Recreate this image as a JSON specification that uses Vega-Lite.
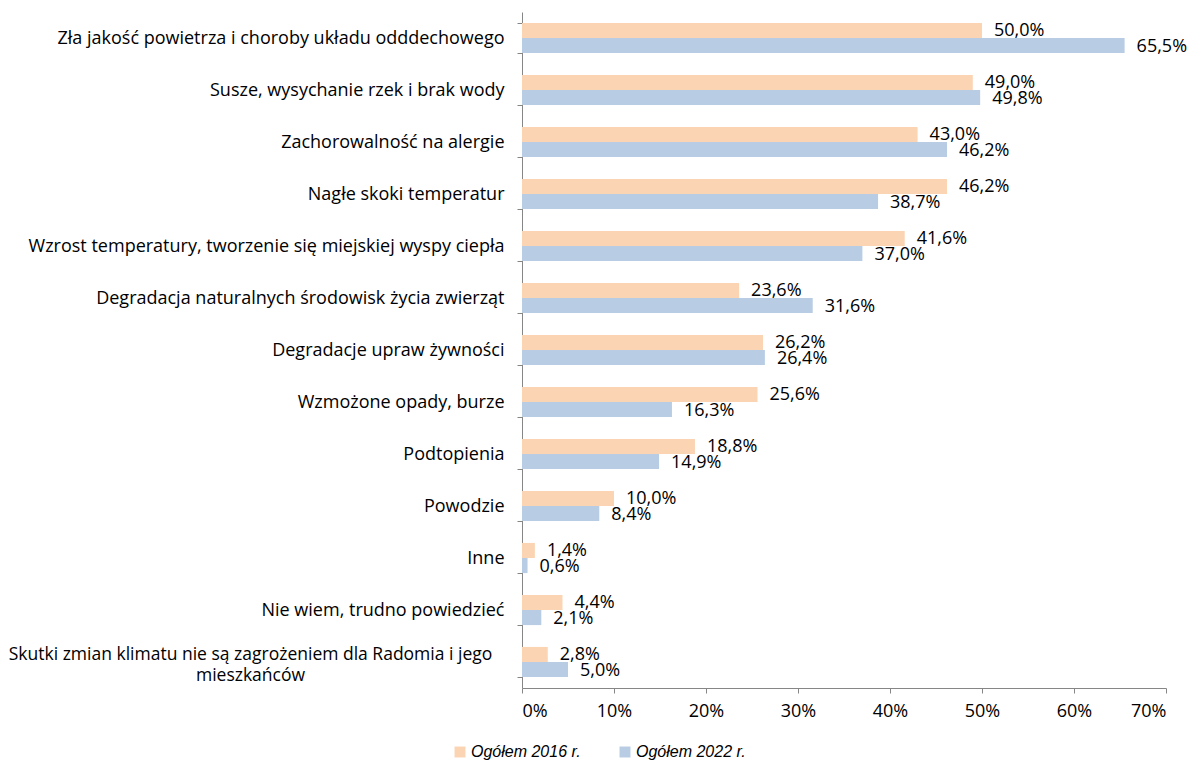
{
  "$schema": "https://vega.github.io/schema/vega-lite/v6.json",
  "width": 644,
  "height": 676,
  "autosize": {"type": "none"},
  "padding": {"left": 522, "top": 12, "right": 22, "bottom": 74},
  "background": "white",
  "data": {
    "values": [
      {"cat": "Zła jakość powietrza i choroby układu odddechowego", "series": "Ogółem 2016 r.", "value": 50.0},
      {"cat": "Zła jakość powietrza i choroby układu odddechowego", "series": "Ogółem 2022 r.", "value": 65.5},
      {"cat": "Susze, wysychanie rzek i brak wody", "series": "Ogółem 2016 r.", "value": 49.0},
      {"cat": "Susze, wysychanie rzek i brak wody", "series": "Ogółem 2022 r.", "value": 49.8},
      {"cat": "Zachorowalność na alergie", "series": "Ogółem 2016 r.", "value": 43.0},
      {"cat": "Zachorowalność na alergie", "series": "Ogółem 2022 r.", "value": 46.2},
      {"cat": "Nagłe skoki temperatur", "series": "Ogółem 2016 r.", "value": 46.2},
      {"cat": "Nagłe skoki temperatur", "series": "Ogółem 2022 r.", "value": 38.7},
      {"cat": "Wzrost temperatury, tworzenie się miejskiej wyspy ciepła", "series": "Ogółem 2016 r.", "value": 41.6},
      {"cat": "Wzrost temperatury, tworzenie się miejskiej wyspy ciepła", "series": "Ogółem 2022 r.", "value": 37.0},
      {"cat": "Degradacja naturalnych środowisk życia zwierząt", "series": "Ogółem 2016 r.", "value": 23.6},
      {"cat": "Degradacja naturalnych środowisk życia zwierząt", "series": "Ogółem 2022 r.", "value": 31.6},
      {"cat": "Degradacje upraw żywności", "series": "Ogółem 2016 r.", "value": 26.2},
      {"cat": "Degradacje upraw żywności", "series": "Ogółem 2022 r.", "value": 26.4},
      {"cat": "Wzmożone opady, burze", "series": "Ogółem 2016 r.", "value": 25.6},
      {"cat": "Wzmożone opady, burze", "series": "Ogółem 2022 r.", "value": 16.3},
      {"cat": "Podtopienia", "series": "Ogółem 2016 r.", "value": 18.8},
      {"cat": "Podtopienia", "series": "Ogółem 2022 r.", "value": 14.9},
      {"cat": "Powodzie", "series": "Ogółem 2016 r.", "value": 10.0},
      {"cat": "Powodzie", "series": "Ogółem 2022 r.", "value": 8.4},
      {"cat": "Inne", "series": "Ogółem 2016 r.", "value": 1.4},
      {"cat": "Inne", "series": "Ogółem 2022 r.", "value": 0.6},
      {"cat": "Nie wiem, trudno powiedzieć", "series": "Ogółem 2016 r.", "value": 4.4},
      {"cat": "Nie wiem, trudno powiedzieć", "series": "Ogółem 2022 r.", "value": 2.1},
      {"cat": "Skutki zmian klimatu nie są zagrożeniem dla Radomia i jego mieszkańców", "series": "Ogółem 2016 r.", "value": 2.8},
      {"cat": "Skutki zmian klimatu nie są zagrożeniem dla Radomia i jego mieszkańców", "series": "Ogółem 2022 r.", "value": 5.0}
    ]
  },
  "encoding": {
    "y": {
      "field": "cat",
      "type": "nominal",
      "sort": null,
      "scale": {"paddingInner": 0.42, "paddingOuter": 0.21},
      "axis": {
        "title": null,
        "domainColor": "#868686",
        "tickColor": "#868686",
        "tickSize": 5,
        "tickBand": "extent",
        "labelFont": "Open Sans",
        "labelFontSize": {"condition": {"test": "datum.value == 'Skutki zmian klimatu nie są zagrożeniem dla Radomia i jego mieszkańców'", "value": 17.5}, "value": 18},
        "labelColor": "#000000",
        "labelPadding": {"condition": {"test": "datum.value == 'Skutki zmian klimatu nie są zagrożeniem dla Radomia i jego mieszkańców'", "value": 267}, "value": 13},
        "labelAlign": {"condition": {"test": "datum.value == 'Skutki zmian klimatu nie są zagrożeniem dla Radomia i jego mieszkańców'", "value": "center"}, "value": "right"},
        "labelOffset": {"condition": {"test": "datum.value == 'Skutki zmian klimatu nie są zagrożeniem dla Radomia i jego mieszkańców'", "value": -8}, "value": 0},
        "labelLimit": 600,
        "labelLineHeight": 21,
        "labelExpr": "datum.label == 'Skutki zmian klimatu nie są zagrożeniem dla Radomia i jego mieszkańców' ? ['Skutki zmian klimatu nie są zagrożeniem dla Radomia i jego', 'mieszkańców'] : datum.label"
      }
    },
    "yOffset": {"field": "series", "type": "nominal", "sort": ["Ogółem 2016 r.", "Ogółem 2022 r."], "scale": {"paddingInner": 0, "paddingOuter": 0}},
    "x": {
      "field": "value",
      "type": "quantitative",
      "scale": {"domain": [0, 70], "nice": false},
      "axis": {
        "title": null,
        "values": [0, 10, 20, 30, 40, 50, 60, 70],
        "grid": false,
        "domainColor": "#868686",
        "tickColor": "#868686",
        "tickSize": 5,
        "labelFont": "Open Sans",
        "labelFontSize": 18,
        "labelColor": "#000000",
        "labelPadding": 9,
        "labelExpr": "datum.value + '%'"
      }
    }
  },
  "layer": [
    {
      "mark": {"type": "bar"},
      "encoding": {
        "color": {
          "field": "series",
          "type": "nominal",
          "sort": ["Ogółem 2016 r.", "Ogółem 2022 r."],
          "scale": {"domain": ["Ogółem 2016 r.", "Ogółem 2022 r."], "range": ["#FBD4B4", "#B8CCE4"]},
          "legend": {
            "title": null,
            "orient": "none",
            "direction": "horizontal",
            "legendX": -70,
            "legendY": 732,
            "symbolType": "square",
            "symbolSize": 120,
            "symbolStrokeWidth": 0,
            "labelFont": "Liberation Sans",
            "labelFontStyle": "italic",
            "labelFontSize": 16,
            "labelColor": "#000000",
            "labelOffset": 3,
            "columnPadding": 36
          }
        }
      }
    },
    {
      "transform": [{"calculate": "replace(format(datum.value, '.1f'), '.', ',') + '%'", "as": "lbl"}],
      "mark": {"type": "text", "align": "left", "baseline": "middle", "dx": 12, "dy": 1, "font": "Open Sans", "fontSize": 18, "color": "#000000"},
      "encoding": {"text": {"field": "lbl"}}
    }
  ],
  "config": {"view": {"stroke": null}}
}
